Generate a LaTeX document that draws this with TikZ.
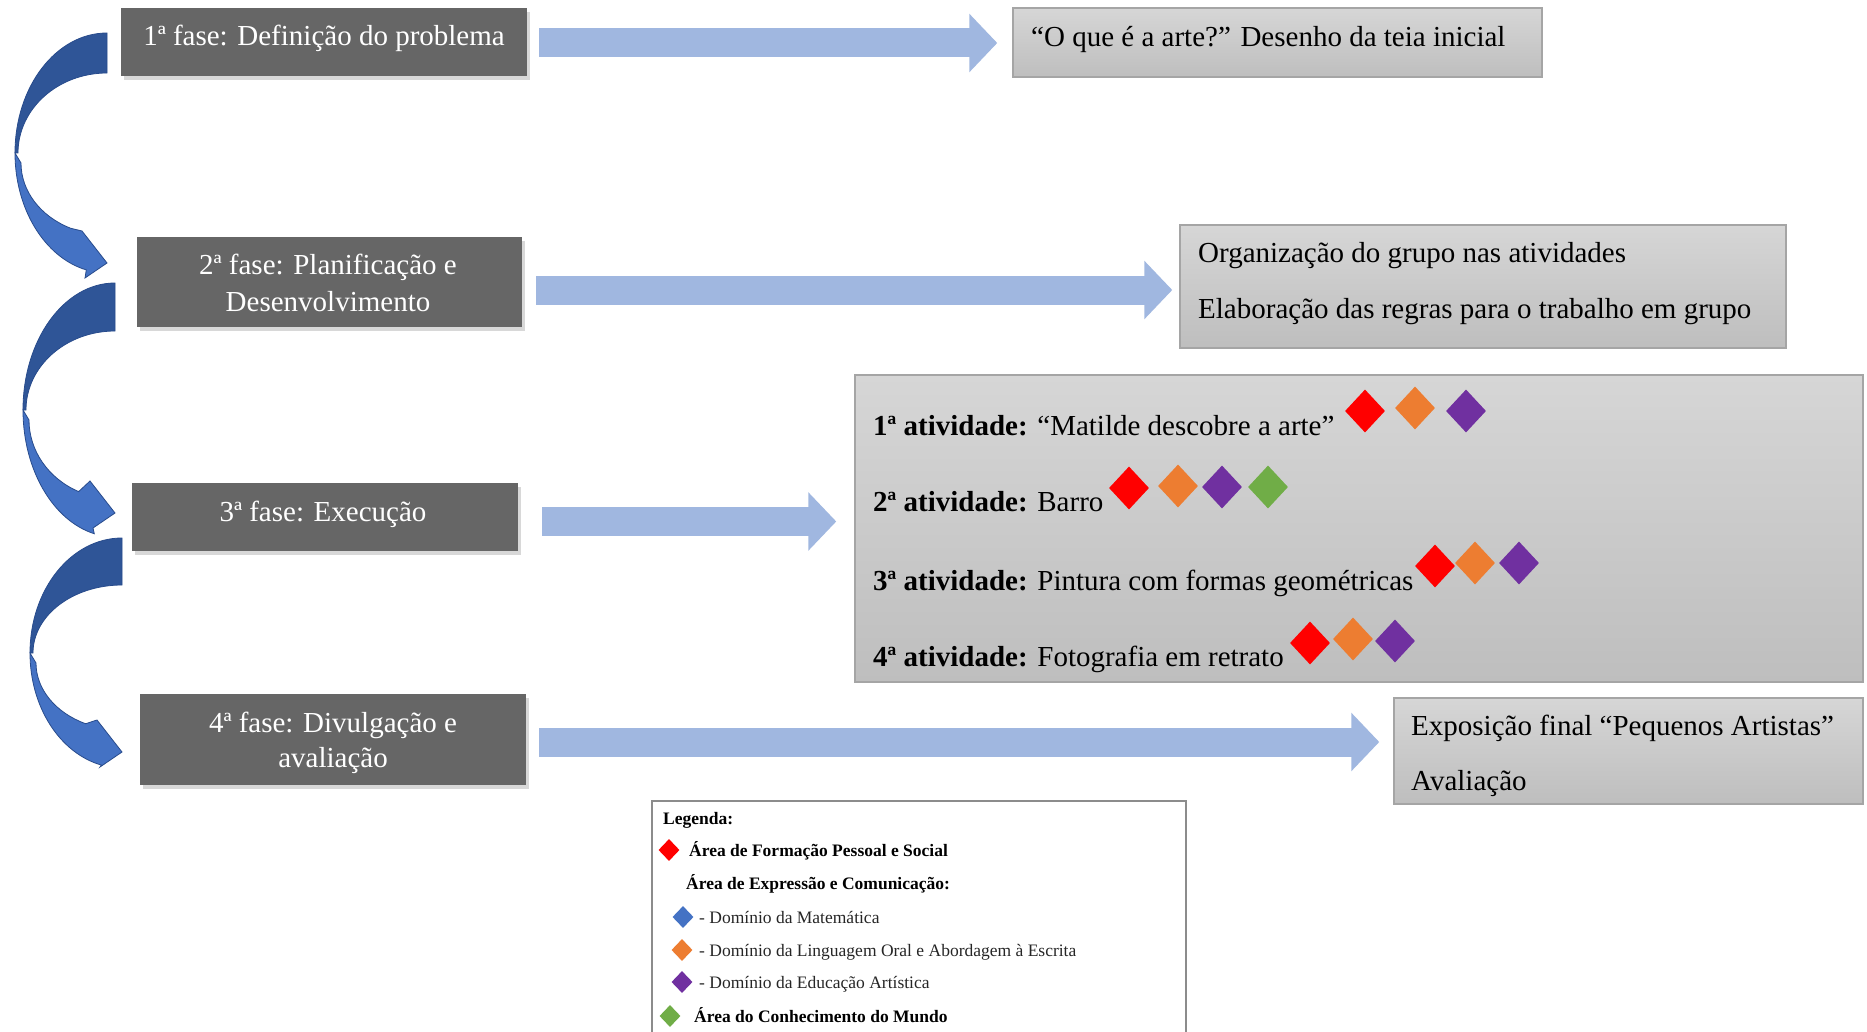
\documentclass[tikz,border=0pt]{standalone}
\usepackage{fontspec}
\setmainfont{Liberation Serif}
\usetikzlibrary{arrows.meta,calc,shadows,shapes.geometric}
\definecolor{phasegray}{RGB}{102,102,102}
\definecolor{boxtop}{RGB}{214,214,214}
\definecolor{boxbot}{RGB}{190,190,190}
\definecolor{boxline}{RGB}{165,165,165}
\definecolor{legline}{RGB}{140,140,140}
\definecolor{arrowblue}{RGB}{160,183,224}
\definecolor{ribdark}{RGB}{47,85,151}
\definecolor{riblight}{RGB}{68,114,196}
\definecolor{ribline}{RGB}{40,75,140}
\definecolor{dred}{RGB}{255,0,0}
\definecolor{dorange}{RGB}{237,125,49}
\definecolor{dpurple}{RGB}{112,48,160}
\definecolor{dgreen}{RGB}{112,173,71}
\definecolor{dblue}{RGB}{68,114,196}
\newcommand\ribbonarrow[5]{% x, y, R, W, T
 \begin{scope}[shift={(#1,#2)}]
  \filldraw[fill=ribdark, draw=ribline, line width=0.8pt] (0,0) arc[start angle=-90, end angle=-180, x radius=92, y radius=#3] -- (-89,#3) arc[start angle=180, end angle=270, x radius=89, y radius=#3-#4] -- cycle;
  \filldraw[fill=riblight, draw=ribline, line width=0.8pt] (-92,#3) arc[start angle=180, end angle=103, x radius=92, y radius=#3] -- (-22,#5+15) -- (0,#5) -- (-25,#5-32) -- ([shift={(0,#3+10)}]115:86 and #3-48) arc[start angle=115, end angle=180, x radius=86, y radius=#3-48] -- cycle;
 \end{scope}}
\begin{document}
\begin{tikzpicture}[x=1pt,y=-1pt,
  phasebox/.style={rectangle, fill=phasegray, inner sep=0pt, drop shadow={shadow xshift=3pt, shadow yshift=-4pt, opacity=0.3}},
  phasetxt/.style={text=white, font=\fontsize{29}{37}\selectfont, anchor=base, inner sep=0pt},
  infobox/.style={rectangle, top color=boxtop, bottom color=boxbot, draw=boxline, line width=1.5pt, inner sep=0pt},
  infotxt/.style={font=\fontsize{29}{35}\selectfont, anchor=base west, inner sep=0pt},
  bigarrow/.style={draw=arrowblue, line width=29pt, -{Triangle[length=28pt,width=57pt]}},
  gem/.style={diamond, fill=#1, inner sep=0pt, minimum width=40pt, minimum height=43pt},
  smallgem/.style={diamond, fill=#1, inner sep=0pt, minimum width=21pt, minimum height=22pt},
  legbold/.style={font=\fontsize{17.5}{21}\selectfont\bfseries, anchor=base west, inner sep=0pt},
  legtxt/.style={font=\fontsize{17.5}{21}\selectfont, text=black!85, anchor=base west, inner sep=0pt},
]
\useasboundingbox (0,0) rectangle (1867,1032);
\fill[white] (0,0) rectangle (1867,1032);

% curved ribbon arrows
\ribbonarrow{107}{33}{120}{40}{230}
\ribbonarrow{115}{283}{127}{48}{230}
\ribbonarrow{122}{538}{115}{47}{214}

% phase boxes
\node[phasebox, minimum width=406pt, minimum height=68pt] (p1) at (324,42) {};
\node[phasebox, minimum width=385pt, minimum height=90pt] (p2) at (329.5,282) {};
\node[phasebox, minimum width=386pt, minimum height=68pt] (p3) at (325,517) {};
\node[phasebox, minimum width=386pt, minimum height=91pt] (p4) at (333,739.5) {};
\node[phasetxt] (p1t) at (324,46) {1ª fase: Definição do problema};
\node[phasetxt] (p2ta) at (328,274) {2ª fase: Planificação e};
\node[phasetxt] (p2tb) at (328,311) {Desenvolvimento};
\node[phasetxt] (p3t) at (323,521) {3ª fase: Execução};
\node[phasetxt] (p4ta) at (333,732) {4ª fase: Divulgação e};
\node[phasetxt] (p4tb) at (333,767) {avaliação};

% info boxes
\node[infobox, minimum width=529pt, minimum height=69pt] (a) at (1277.5,42.5) {};
\node[infobox, minimum width=606pt, minimum height=123pt] (b) at (1483,286.5) {};
\node[infobox, minimum width=1008pt, minimum height=307pt] (c) at (1359,528.5) {};
\node[infobox, minimum width=469pt, minimum height=106pt] (d) at (1628.5,751) {};

\node[infotxt] (at) at (1031,47) {“O que é a arte?” Desenho da teia inicial};
\node[infotxt] (bt1) at (1198,262) {Organização do grupo nas atividades};
\node[infotxt] (bt2) at (1198,318) {Elaboração das regras para o trabalho em grupo};
\node[infotxt] (ct1) at (873,435) {\textbf{1ª atividade:} “Matilde descobre a arte”};
\node[infotxt] (ct2) at (873,511) {\textbf{2ª atividade:} Barro};
\node[infotxt] (ct3) at (873,590) {\textbf{3ª atividade:} Pintura com formas geométricas};
\node[infotxt] (ct4) at (873,666) {\textbf{4ª atividade:} Fotografia em retrato};
\node[infotxt] (dt1) at (1411,735) {Exposição final “Pequenos Artistas”};
\node[infotxt] (dt2) at (1411,790) {Avaliação};

% diamonds in activities
\node[gem=dred] (g11) at (1365,411) {};
\node[gem=dorange] (g12) at (1415,408) {};
\node[gem=dpurple] (g13) at (1466,411) {};
\node[gem=dred] (g21) at (1129,488) {};
\node[gem=dorange] (g22) at (1178,486) {};
\node[gem=dpurple] (g23) at (1222,487) {};
\node[gem=dgreen] (g24) at (1268,487) {};
\node[gem=dred] (g31) at (1435,566) {};
\node[gem=dorange] (g32) at (1475,563) {};
\node[gem=dpurple] (g33) at (1519,563) {};
\node[gem=dred] (g41) at (1310,643) {};
\node[gem=dorange] (g42) at (1353,639) {};
\node[gem=dpurple] (g43) at (1395,641) {};

% block arrows
\draw[bigarrow] ($(p1.east)+(12,1)$) -- ($(a.west|-p1.east)+(-15,1)$);
\draw[bigarrow] ($(p2.east)+(14,8)$) -- ($(b.west|-p2.east)+(-7,8)$);
\draw[bigarrow] ($(p3.east)+(24,4.5)$) -- ($(c.west|-p3.east)+(-18,4.5)$);
\draw[bigarrow] ($(p4.east)+(13,2.5)$) -- ($(d.west|-p4.east)+(-14,2.5)$);

% legend
\node[rectangle, draw=legline, line width=1.5pt, fill=white, minimum width=534pt, minimum height=244pt, inner sep=0pt] (leg) at (919,923) {};
\node[legbold] (l0) at (663,824) {Legenda:};
\node[smallgem=dred] (lg1) at (669,850) {};
\node[legbold] (l1) at (689,856) {Área de Formação Pessoal e Social};
\node[legbold] (l2) at (686,889) {Área de Expressão e Comunicação:};
\node[smallgem=dblue] (lg3) at (683,917) {};
\node[legtxt] (l3) at (699,923) {- Domínio da Matemática};
\node[smallgem=dorange] (lg4) at (682,950) {};
\node[legtxt] (l4) at (699,956) {- Domínio da Linguagem Oral e Abordagem à Escrita};
\node[smallgem=dpurple] (lg5) at (682,982) {};
\node[legtxt] (l5) at (699,988) {- Domínio da Educação Artística};
\node[smallgem=dgreen] (lg6) at (670,1016) {};
\node[legbold] (l6) at (694,1022) {Área do Conhecimento do Mundo};
\end{tikzpicture}
\end{document}
